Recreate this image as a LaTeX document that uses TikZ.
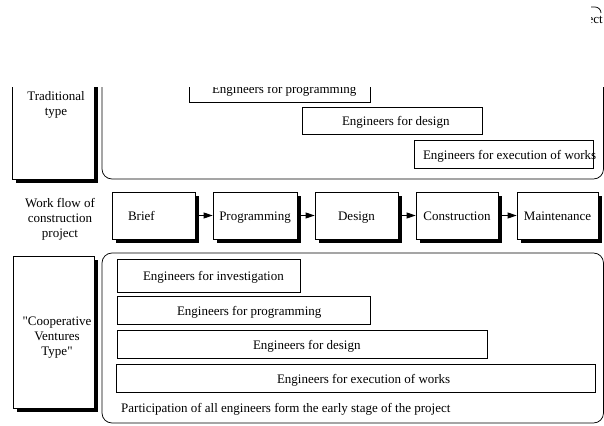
\documentclass[tikz,border=0pt]{standalone}
\usepackage{fontspec}
\setmainfont{Liberation Serif}
\usetikzlibrary{arrows.meta,shadows}
\tikzset{
  txt/.style={font=\fontsize{13}{15}\selectfont, inner sep=0pt},
  engbox/.style={txt, draw, line width=0.75pt, fill=white, text height=10.5pt, text depth=0pt},
  shbox/.style={draw, line width=0.75pt, fill=white, inner sep=0pt,
    drop shadow={shadow xshift=4pt, shadow yshift=-4pt, fill=black, opacity=1}},
  flowbox/.style={shbox, txt, minimum width=#1, minimum height=47pt, text height=10.5pt, text depth=0pt},
  container/.style={draw, line width=0.75pt, rounded corners=10pt, inner sep=0pt},
  flowarrow/.style={line width=0.75pt, -{Triangle[length=9pt,width=6pt]}},
  lbl/.style={txt, align=center}
}
\newcommand{\padtext}[3]{\makebox[#1][l]{\hspace{#2}#3}}
\begin{document}
\begin{tikzpicture}[x=1pt,y=-1pt]
\useasboundingbox (0,0) rectangle (604,425);
\begin{scope}
\clip (0,87.5) rectangle (604,425);
% traditional type
\node[shbox, minimum width=82pt, minimum height=129pt] (trad) at (53,114.5) {};
\node[lbl] (tradtxt) at (56,104.5) {Traditional\\type};
\node[container, minimum width=501.5pt, minimum height=129pt] (tcont) at (352.75,114.5) {};
\node[engbox, minimum width=181pt, minimum height=27pt] (tprog) at (279.5,88.5)
  {\padtext{181pt}{23pt}{Engineers for programming}};
\node[engbox, minimum width=180pt, minimum height=27pt] (tdes) at (392,120.5)
  {\padtext{180pt}{40pt}{Engineers for design}};
\node[engbox, minimum width=179pt, minimum height=28pt] (texe) at (503.5,154)
  {\padtext{179pt}{9pt}{Engineers for execution of works}};
\end{scope}
% work flow
\node[lbl] (wf) at (60,219) {Work flow of\\construction\\project};
\node[flowbox=83pt] (brief) at (153.5,215.5) {\padtext{83pt}{16pt}{Brief}};
\node[flowbox=84pt] (prog) at (255,215.5) {Programming};
\node[flowbox=83pt] (des) at (356.5,215.5) {Design};
\node[flowbox=82pt] (cons) at (457,215.5) {Construction};
\node[flowbox=81pt] (maint) at (557.5,215.5) {Maintenance};
\draw[flowarrow] (brief) -- (prog);
\draw[flowarrow] (prog) -- (des);
\draw[flowarrow] (des) -- (cons);
\draw[flowarrow] (cons) -- (maint);
% cooperative ventures type
\node[shbox, minimum width=81pt, minimum height=152pt] (coop) at (53.5,332) {};
\node[lbl] (cooptxt) at (57,338) {\textquotedbl Cooperative\\Ventures\\Type\textquotedbl};
\node[container, minimum width=501.5pt, minimum height=170pt] (bcont) at (352.75,338) {};
\node[engbox, minimum width=183pt, minimum height=33pt] (binv) at (208.5,275.5)
  {\padtext{183pt}{26pt}{Engineers for investigation}};
\node[engbox, minimum width=253pt, minimum height=28pt] (bprog) at (243.5,310)
  {\padtext{253pt}{60pt}{Engineers for programming}};
\node[engbox, minimum width=370pt, minimum height=28pt] (bdes) at (302,344)
  {\padtext{370pt}{136pt}{Engineers for design}};
\node[engbox, minimum width=479pt, minimum height=28pt] (bexe) at (355.5,378)
  {\padtext{479pt}{161pt}{Engineers for execution of works}};
\node[txt, anchor=west] (part) at (121,409) {Participation of all engineers form the early stage of the project};
% cut-off top right fragment
\begin{scope}
\clip (591,0) rectangle (604,40);
\node[txt, anchor=east] (ect) at (603,21) {Project};
\draw[line width=0.75pt] (585,7) -- (595,7) arc[start angle=-90, end angle=0, radius=6];
\end{scope}
\end{tikzpicture}
\end{document}
